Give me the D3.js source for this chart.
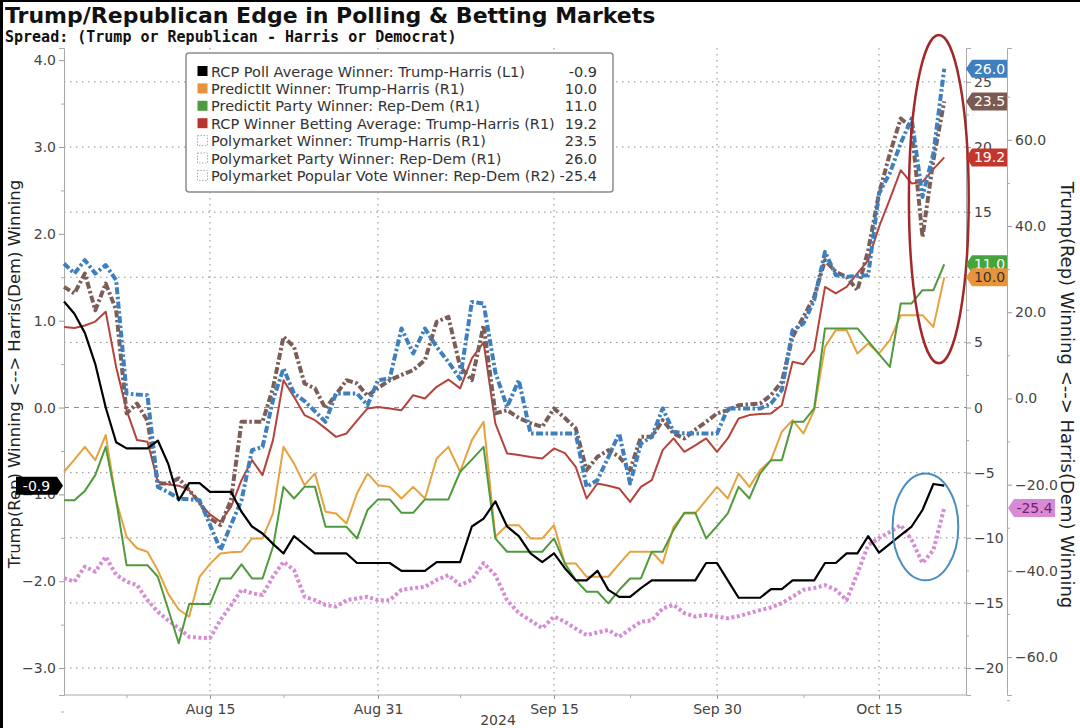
<!DOCTYPE html>
<html>
<head>
<meta charset="utf-8">
<script src="https://cdn.jsdelivr.net/npm/d3@7/dist/d3.min.js"></script>
<style>
  body { margin: 0; background: #fff; }
  svg { display: block; font-family: "DejaVu Sans", Verdana, sans-serif; }
</style>
</head>
<body>
<div class="chartCanvas"></div>
<script>
// daily readings, Aug 1 - Oct 21 2024
const firstDay = '2024-08-01'
const lastDay = '2024-10-22'

// L1 axis
const rcpPoll = [1.22, 1.08, 0.86, 0.50, 0.0, -0.40, -0.47, -0.47, -0.47, -0.38,
  -0.65, -1.07, -0.87, -0.87, -0.97, -0.97, -0.97, -1.2, -1.37, -1.45,
  -1.57, -1.68, -1.48, -1.58, -1.68, -1.68, -1.68, -1.68, -1.79, -1.79,
  -1.79, -1.79, -1.88, -1.88, -1.88, -1.78, -1.78, -1.78, -1.37, -1.28,
  -1.08, -1.37, -1.48, -1.68, -1.78, -1.68, -1.85, -1.99, -1.99, -1.88,
  -2.10, -2.18, -2.18, -2.08, -1.99, -1.99, -1.99, -1.99, -1.99, -1.79,
  -1.79, -1.99, -2.19, -2.19, -2.19, -2.09, -2.09, -1.99, -1.99, -1.99,
  -1.79, -1.79, -1.68, -1.68, -1.48, -1.67, -1.57, -1.47, -1.37, -1.18,
  -0.88, -0.9]

// R1 axis
const predictItWinner = [-4.93, -4.0, -3.02, -4.04, -2.12, -7.11, -9.92, -10.8, -11.07, -12.5,
  -14.3, -15.5, -16.06, -12.99, -12.0, -11.2, -11.1, -11.07, -10.05, -10.05,
  -8.13, -3.02, -4.29, -5.96, -5.06, -8.0, -8.13, -8.9, -6.59, -5.06,
  -5.96, -6.09, -6.98, -6.09, -6.98, -3.91, -3.02, -4.93, -2.5, -1.1,
  -9.92, -9.03, -9.03, -10.05, -10.05, -9.03, -11.97, -11.97, -12.99, -12.99,
  -12.99, -12.0, -11.07, -11.07, -11.07, -11.97, -9.16, -8.13, -8.13, -7.1,
  -6.09, -6.98, -5.06, -6.09, -4.8, -4.04, -1.86, -0.97, -1.99, -0.2,
  4.66, 5.94, 5.94, 4.15, 4.92, 4.15, 5.17, 7.09, 7.09, 7.09,
  6.19, 10.0]

const predictItParty = [-7.11, -7.11, -6.4, -5.19, -3.02, -7.11, -12.1, -12.1, -12.1, -12.99,
  -15.5, -18.1, -15.09, -15.09, -15.09, -13.12, -13.12, -12.04, -13.12, -13.12,
  -10.69, -6.09, -6.98, -6.09, -6.09, -9.16, -9.16, -9.16, -10.05, -7.87,
  -7.05, -7.05, -8.08, -8.08, -7.05, -7.05, -7.05, -4.93, -4.0, -3.02,
  -10.05, -11.07, -11.07, -11.07, -11.07, -10.05, -11.97, -13.25, -14.14, -14.14,
  -15.03, -14.01, -13.12, -13.12, -11.07, -11.07, -9.41, -8.08, -8.08, -10.05,
  -9.1, -8.13, -6.09, -6.98, -5.06, -4.04, -4.04, -1.1, -1.1, -0.07,
  6.07, 6.07, 6.07, 6.07, 5.1, 4.1, 3.12, 7.99, 7.99, 9.01,
  9.01, 11.0]

const rcpBetting = [6.19, 6.1, 6.3, 6.6, 7.35, 3.12, -0.2, -2.5, -2.63, -5.7,
  -5.9, -6.0, -6.34, -7.36, -8.2, -8.77, -7.62, -5.57, -4.04, -5.19,
  -2.5, 2.1, 0.82, -0.58, -0.97, -1.6, -2.25, -1.99, -1.0, -0.07,
  0.05, -0.07, -0.2, 0.95, 0.70, 1.59, 2.15, 1.47, 3.77, 5.0,
  -1.22, -3.52, -3.65, -3.8, -3.91, -3.14, -3.5, -4.55, -6.98, -5.83,
  -6.0, -6.21, -7.24, -6.09, -5.57, -3.27, -2.37, -3.40, -2.9, -2.37,
  -3.40, -2.37, -0.84, -0.58, -0.5, -0.45, 0.18, 3.51, 3.33, 4.41,
  9.26, 8.76, 9.26, 10.29, 11.31, 13.87, 16.0, 18.22, 17.2, 17.32,
  18.3, 19.2]

const polyWinner = [9.26, 8.76, 10.29, 7.47, 9.52, 7.5, -0.45, 0.31, -1.0, -5.83,
  -5.83, -5.44, -6.34, -7.3, -8.5, -9.03, -7.11, -1.1, -1.1, -1.1,
  1.5, 5.43, 4.66, 1.85, 1.47, -0.07, 1.0, 2.1, 1.85, 0.9,
  1.5, 2.1, 2.5, 2.87, 3.64, 6.58, 6.96, 3.12, 2.1, 6.32,
  -0.45, -0.2, -0.8, -1.2, -1.48, -0.07, -0.8, -1.6, -4.8, -3.78,
  -3.27, -3.78, -4.8, -2.25, -2.25, -0.97, -1.99, -2.37, -1.7, -1.1,
  -0.45, -0.2, 0.18, 0.25, 0.31, 0.95, 1.97, 5.43, 6.96, 8.5,
  11.31, 10.41, 10.03, 9.01, 12.08, 16.43, 19.5, 22.19, 21.5, 13.1,
  19.0, 23.5]

const polyParty = [11.06, 10.29, 11.31, 10.29, 10.93, 9.78, 1.08, 1.0, 0.95, -6.09,
  -6.5, -6.98, -7.05, -7.11, -9.0, -10.94, -9.0, -7.11, -3.27, -3.02,
  0.57, 3.0, 1.08, 0.5, -0.3, -1.1, 1.08, 1.08, 1.08, 0.18,
  2.1, 2.23, 6.07, 4.15, 6.07, 4.66, 3.5, 2.2, 8.11, 7.99,
  2.7, 0.05, 2.1, -1.99, -1.99, -1.99, -1.99, -1.99, -6.09, -5.57,
  -3.8, -1.99, -5.83, -2.76, -2.25, -0.07, -1.86, -1.99, -1.99, -1.99,
  -1.99, -0.07, -0.07, -0.07, -0.07, 0.31, 1.34, 5.94, 6.45, 8.24,
  11.95, 10.16, 10.03, 10.1, 10.16, 16.43, 18.0, 20.3, 22.19, 16.17,
  19.5, 26.0]

// R2 axis
const polyPopular = [-41.7, -42.5, -39.0, -40.2, -36.7, -40.9, -42.5, -43.3, -46.8, -49.5,
  -51.5, -53.3, -55.3, -55.5, -55.6, -51.4, -48.0, -44.4, -45.2, -45.6,
  -41.3, -37.9, -39.8, -46.0, -46.8, -47.9, -48.3, -46.8, -46.4, -46.0,
  -46.8, -46.8, -44.4, -44.0, -43.7, -42.1, -41.0, -43.3, -42.1, -38.2,
  -41.0, -46.8, -49.8, -51.5, -53.3, -50.6, -51.8, -53.4, -54.9, -54.3,
  -53.7, -55.3, -53.5, -51.8, -51.5, -48.7, -47.9, -49.8, -50.6, -50.2,
  -50.6, -51.0, -50.5, -49.8, -49.1, -48.5, -47.5, -46.0, -44.4, -44.0,
  -43.3, -44.4, -46.8, -40.6, -34.0, -32.4, -31.0, -29.4, -32.8, -38.2,
  -35.2, -25.4]

const legendLabels = [
  'RCP Poll Average Winner: Trump-Harris (L1)',
  'PredictIt Winner: Trump-Harris (R1)',
  'Predictit Party Winner: Rep-Dem (R1)',
  'RCP Winner Betting Average: Trump-Harris (R1)',
  'Polymarket Winner: Trump-Harris (R1)',
  'Polymarket Party Winner: Rep-Dem (R1)',
  'Polymarket Popular Vote Winner: Rep-Dem (R2)'
]
const lastValues = ['-0.9', '10.0', '11.0', '19.2', '23.5', '26.0', '-25.4']

const xTickDates = ['2024-08-15', '2024-08-31', '2024-09-15', '2024-09-30', '2024-10-15']
const xMinorDates = ['2024-08-07', '2024-08-22', '2024-09-07', '2024-09-22', '2024-10-08']
const leftTicks = [-3, -2, -1, 0, 1, 2, 3, 4]
const r1Ticks = [-20, -15, -10, -5, 0, 5, 10, 15, 20, 25]
const r2Ticks = [-60, -40, -20, 0, 20, 40, 60]

const parseDay = d3.timeParse('%Y-%m-%d')
const parseHour = d3.timeParse('%Y-%m-%dT%H')
const days = d3.timeDay.range(parseDay(firstDay), parseDay(lastDay))

const svgWidth = 1080
const svgHeight = 728
const plot = {left: 64, right: 966, top: 48, bottom: 695}
const r2AxisX = 1007

const svg = d3.select('.chartCanvas').append('svg')
  .attr('width', svgWidth)
  .attr('height', svgHeight)

svg.append('rect').attr('width', svgWidth).attr('height', svgHeight).attr('fill', '#fff')
svg.append('rect').attr('x', 0).attr('y', 0).attr('width', 3).attr('height', svgHeight).attr('fill', '#000')
svg.append('rect').attr('x', 0).attr('y', 0).attr('width', svgWidth).attr('height', 2).attr('fill', '#000')

// x is piecewise: the source chart spaces its months a little unevenly
const x = d3.scaleTime()
  .domain(['2024-08-01', '2024-08-15', '2024-08-31', '2024-09-15', '2024-09-30', '2024-10-15', '2024-10-23'].map(parseDay))
  .range([plot.left, 210, 378, 554, 717, 879, 966])

const yL = d3.scaleLinear().domain([-3.31, 4.14]).range([plot.bottom, plot.top])
const yR1 = d3.scaleLinear().domain([-3.31 * 20 / 3, 4.14 * 20 / 3]).range([plot.bottom, plot.top])
const yR2 = d3.scaleLinear().domain([-68.8, 81.3]).range([plot.bottom, plot.top])

// titles
svg.append('text').attr('x', 5).attr('y', 23)
  .attr('font-size', 22).attr('font-weight', 'bold').attr('fill', '#111')
  .text('Trump/Republican Edge in Polling & Betting Markets')
svg.append('text').attr('x', 5).attr('y', 42)
  .attr('font-family', '"DejaVu Sans Mono", monospace')
  .attr('font-size', 15).attr('font-weight', 'bold').attr('fill', '#111')
  .text('Spread: (Trump or Republican - Harris or Democrat)')

// grid
const grid = svg.append('g')
grid.selectAll('.hgrid')
  .data(r1Ticks)
  .join('line')
  .attr('class', 'hgrid')
  .attr('x1', plot.left).attr('x2', plot.right)
  .attr('y1', d => yR1(d)).attr('y2', d => yR1(d))
  .attr('stroke', '#8a8a8a').attr('stroke-width', 1)
  .attr('stroke-dasharray', d => d === 0 ? '5,5' : '1.5,4.5')
grid.selectAll('.vgrid')
  .data(xTickDates.map(parseDay))
  .join('line')
  .attr('class', 'vgrid')
  .attr('x1', d => x(d)).attr('x2', d => x(d))
  .attr('y1', plot.top).attr('y2', plot.bottom)
  .attr('stroke', '#8a8a8a').attr('stroke-width', 1)
  .attr('stroke-dasharray', '1.5,4.5')

// axes
const styleAxis = (g, fontSize) => {
  g.select('.domain').attr('stroke', '#aaa')
  g.selectAll('.tick line').attr('stroke', '#999')
  g.selectAll('.tick text').attr('fill', '#444').attr('font-size', fontSize)
    .attr('font-family', '"DejaVu Sans", Verdana, sans-serif')
}

const leftAxis = svg.append('g').attr('transform', `translate(${plot.left},0)`)
  .call(d3.axisLeft(yL).tickValues(leftTicks).tickFormat(d3.format('.1f')).tickSize(5).tickPadding(3))
styleAxis(leftAxis, 14)
svg.append('g').attr('transform', `translate(${plot.left},0)`)
  .call(d3.axisLeft(yL).tickValues(d3.range(-3.5, 4.1, 1)).tickFormat('').tickSize(3))
  .call(g => g.select('.domain').remove())
  .call(g => g.selectAll('.tick line').attr('stroke', '#aaa'))

const r1Axis = svg.append('g').attr('transform', `translate(${plot.right},0)`)
  .call(d3.axisRight(yR1).tickValues(r1Ticks).tickFormat(d3.format('d')).tickSize(5).tickPadding(3))
styleAxis(r1Axis, 14)
svg.append('g').attr('transform', `translate(${plot.right},0)`)
  .call(d3.axisRight(yR1).tickValues(d3.range(-17.5, 26, 5)).tickFormat('').tickSize(3))
  .call(g => g.select('.domain').remove())
  .call(g => g.selectAll('.tick line').attr('stroke', '#aaa'))

const r2Axis = svg.append('g').attr('transform', `translate(${r2AxisX},0)`)
  .call(d3.axisRight(yR2).tickValues(r2Ticks).tickFormat(d3.format('.1f')).tickSize(5).tickPadding(3))
styleAxis(r2Axis, 14)
svg.append('g').attr('transform', `translate(${r2AxisX},0)`)
  .call(d3.axisRight(yR2).tickValues(d3.range(-70, 81, 20)).tickFormat('').tickSize(3))
  .call(g => g.select('.domain').remove())
  .call(g => g.selectAll('.tick line').attr('stroke', '#aaa'))

const xAxis = svg.append('g').attr('transform', `translate(0,${plot.bottom})`)
  .call(d3.axisBottom(x).tickValues(xTickDates.map(parseDay)).tickFormat(d3.timeFormat('%b %d')).tickSize(4).tickPadding(5))
styleAxis(xAxis, 14)
xAxis.select('.domain').attr('d', `M${plot.left},0H${plot.right}`)
svg.append('g').attr('transform', `translate(0,${plot.bottom})`)
  .call(d3.axisBottom(x).tickValues(xMinorDates.map(parseDay)).tickFormat('').tickSize(3))
  .call(g => g.select('.domain').remove())
  .call(g => g.selectAll('.tick line').attr('stroke', '#aaa'))
svg.append('text').attr('x', 498).attr('y', 725)
  .attr('text-anchor', 'middle').attr('font-size', 14).attr('fill', '#444')
  .text('2024')

const axisTitle = 'Trump(Rep) Winning <--> Harris(Dem) Winning'
svg.append('text')
  .attr('transform', 'translate(20,374) rotate(-90)')
  .attr('text-anchor', 'middle').attr('font-size', 16.4).attr('fill', '#222')
  .text(axisTitle)
svg.append('text')
  .attr('transform', 'translate(1061,395) rotate(90)')
  .attr('text-anchor', 'middle').attr('font-size', 18).attr('fill', '#222')
  .text(axisTitle)

// series
const series = [
  {values: polyPopular, y: yR2, color: '#d68cd4', width: 4, dash: '3,2.5'},
  {values: predictItWinner, y: yR1, color: '#e5a23f', width: 2, dash: null},
  {values: predictItParty, y: yR1, color: '#4f9a3c', width: 2, dash: null},
  {values: rcpBetting, y: yR1, color: '#b6433b', width: 2, dash: null},
  {values: polyWinner, y: yR1, color: '#7b5e57', width: 4, dash: '7,2.5,2.5,2.5'},
  {values: polyParty, y: yR1, color: '#3e7fbf', width: 4, dash: '7,2.5,2.5,2.5'},
  {values: rcpPoll, y: yL, color: '#000', width: 2.2, dash: null}
]

const lines = svg.append('g')
series.forEach(s => {
  const line = d3.line()
    .x((d, i) => x(days[i]))
    .y(d => s.y(d))
  lines.append('path')
    .datum(s.values)
    .attr('d', line)
    .attr('fill', 'none')
    .attr('stroke', s.color)
    .attr('stroke-width', s.width)
    .attr('stroke-linejoin', 'round')
    .attr('stroke-dasharray', s.dash)
})

// annotation ellipses
const ellipses = [
  {from: '2024-10-17T18', to: '2024-10-23T06', top: 28.6, bottom: 3.4, y: yR1, color: '#a3282a', width: 2.5},
  {from: '2024-10-16T06', to: '2024-10-22T07', top: -0.76, bottom: -1.99, y: yL, color: '#4a8dbf', width: 2}
]
ellipses.forEach(e => {
  const x0 = x(parseHour(e.from))
  const x1 = x(parseHour(e.to))
  const y0 = e.y(e.top)
  const y1 = e.y(e.bottom)
  svg.append('ellipse')
    .attr('cx', (x0 + x1) / 2).attr('cy', (y0 + y1) / 2)
    .attr('rx', (x1 - x0) / 2).attr('ry', (y1 - y0) / 2)
    .attr('fill', 'none').attr('stroke', e.color).attr('stroke-width', e.width)
})

// legend
const legendColors = ['#000', '#e8923a', '#4b9c3f', '#b8342c', null, null, null]
const legend = svg.append('g').attr('transform', 'translate(186,53)')
legend.append('rect')
  .attr('width', 427).attr('height', 139).attr('rx', 3)
  .attr('fill', '#fff').attr('stroke', '#8c8c8c').attr('stroke-width', 1.5)
const rows = legend.selectAll('.row')
  .data(legendLabels)
  .join('g')
  .attr('class', 'row')
  .attr('transform', (d, i) => `translate(0,${18.5 + i * 17.4})`)
rows.append('rect')
  .attr('x', 11.5).attr('y', -5.5).attr('width', 10).attr('height', 10)
  .attr('fill', (d, i) => legendColors[i] || 'none')
  .attr('stroke', (d, i) => legendColors[i] ? 'none' : '#aaa')
  .attr('stroke-dasharray', '1.5,1.5')
rows.append('text')
  .attr('x', 25).attr('y', 5)
  .attr('font-size', 14.5).attr('fill', '#333')
  .text(d => d)
rows.append('text')
  .attr('x', 411).attr('y', 5)
  .attr('text-anchor', 'end')
  .attr('font-size', 14.5).attr('fill', '#333')
  .text((d, i) => lastValues[i])

// end-value tags
const drawTag = (tipX, y, w, dir, fill, textColor, label) => {
  const h = 9
  const a = 6
  const pts = dir > 0
    ? [[tipX, y], [tipX + a, y - h], [tipX + w, y - h], [tipX + w, y + h], [tipX + a, y + h]]
    : [[tipX, y], [tipX - a, y - h], [tipX - w, y - h], [tipX - w, y + h], [tipX - a, y + h]]
  svg.append('polygon').attr('points', pts.map(p => p.join(',')).join(' ')).attr('fill', fill)
  svg.append('text')
    .attr('x', dir > 0 ? tipX + a + (w - a) / 2 : tipX - a - (w - a) / 2)
    .attr('y', y + 5)
    .attr('text-anchor', 'middle').attr('font-size', 14).attr('fill', textColor)
    .text(label)
}

drawTag(plot.right, yR1(+lastValues[5]), 41, 1, '#3e7fbf', '#fff', lastValues[5])
drawTag(plot.right, yR1(+lastValues[4]), 41, 1, '#7b5a52', '#fff', lastValues[4])
drawTag(plot.right, yR1(+lastValues[3]), 41, 1, '#c4352c', '#fff', lastValues[3])
drawTag(plot.right, yR1(+lastValues[2]), 41, 1, '#45a43c', '#fff', lastValues[2])
drawTag(plot.right, yR1(+lastValues[1]), 41, 1, '#e8943a', '#333', lastValues[1])
drawTag(r2AxisX + 1, yR2(+lastValues[6]), 47, 1, '#d98ad6', '#6d2468', lastValues[6])
drawTag(plot.left - 1, yL(+lastValues[0]), 47, -1, '#000', '#fff', lastValues[0])
</script>
</body>
</html>
